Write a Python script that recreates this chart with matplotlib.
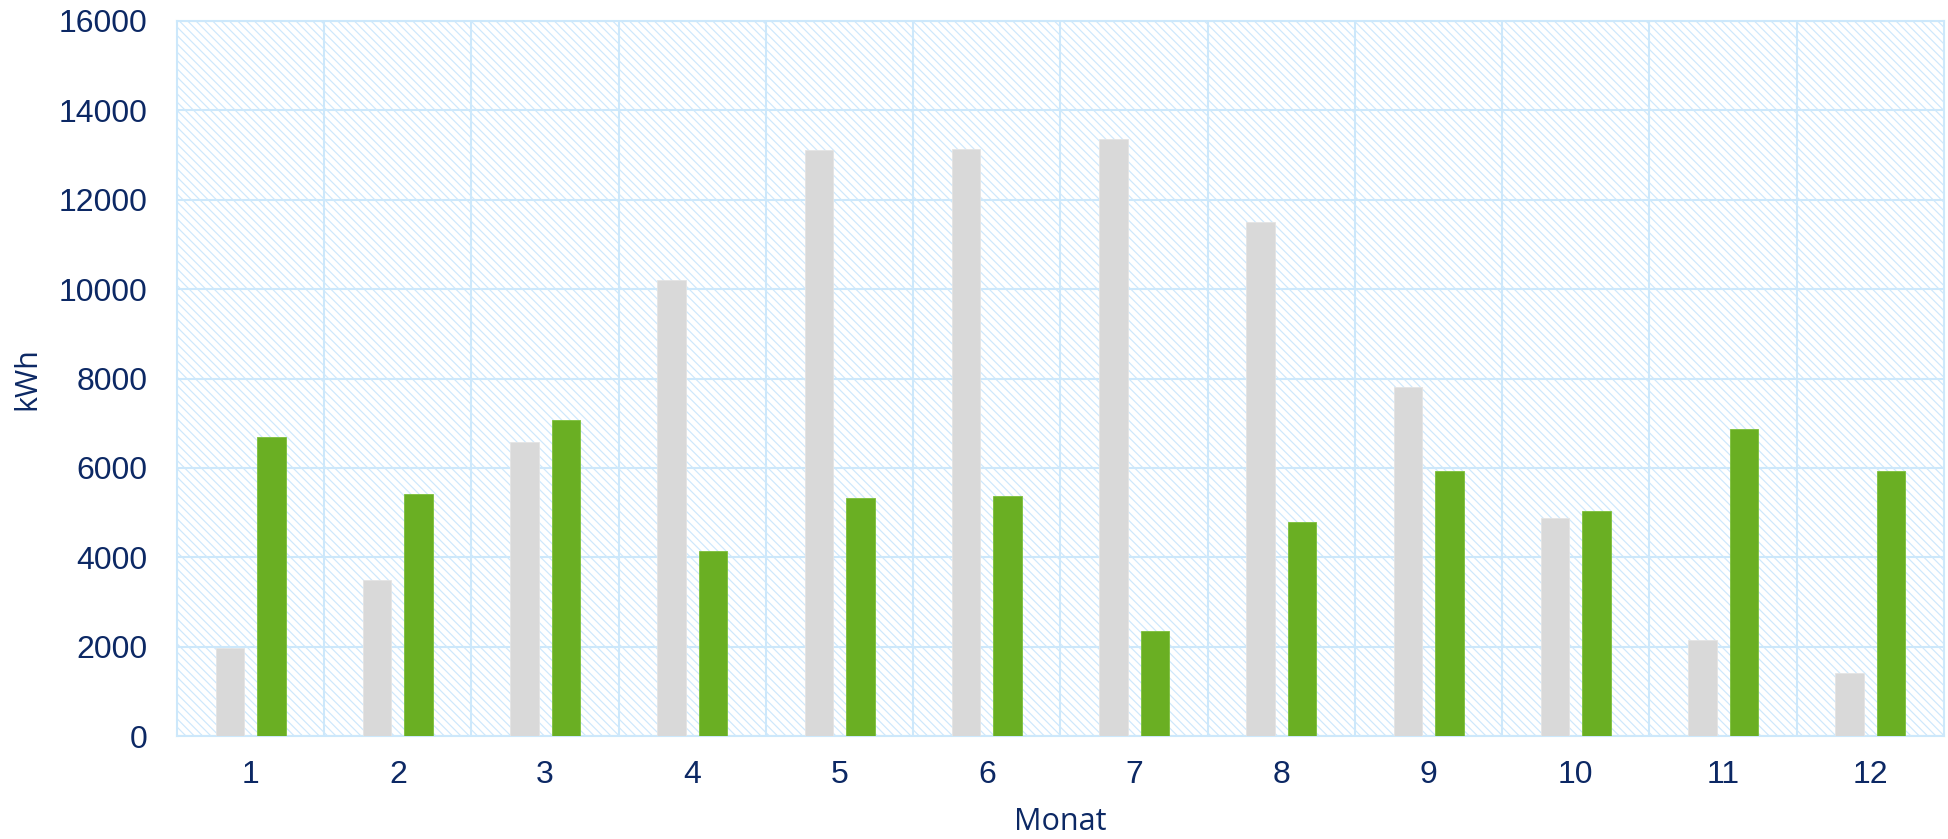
import matplotlib
matplotlib.use("Agg")
import matplotlib.pyplot as plt
import numpy as np

# Monthly energy values (kWh)
months = [1, 2, 3, 4, 5, 6, 7, 8, 9, 10, 11, 12]
series_gray = [1960, 3490, 6570, 10200, 13120, 13140, 13350, 11500, 7800, 4870, 2150, 1400]
series_green = [6700, 5410, 7070, 4150, 5330, 5370, 2340, 4800, 5920, 5030, 6870, 5920]
y_ticks = [0, 2000, 4000, 6000, 8000, 10000, 12000, 14000, 16000]

TEXT = "#0c2864"
GRID = "#cde8fb"
HATCH = "#cde8fc"
GRAY = "#d9d9d9"
GREEN = "#6aaf23"

plt.rcParams["font.family"] = ["Liberation Sans", "DejaVu Sans"]
plt.rcParams["hatch.color"] = HATCH
plt.rcParams["hatch.linewidth"] = 0.85

W, H = 1949, 839
fig = plt.figure(figsize=(W / 100, H / 100), dpi=100)
ax = fig.add_axes([177 / W, (H - 736) / H, (1944 - 177) / W, (736 - 21) / H])

# hatched background of the plotting area
ax.add_patch(plt.Rectangle((0, 0), 1, 1, transform=ax.transAxes,
                           facecolor="white", edgecolor=HATCH, linewidth=0,
                           hatch="\\\\\\\\", zorder=0))

x = np.arange(len(months))
bw = 0.194
off = 0.141
ax.bar(x - off, series_gray, width=bw, color=GRAY, edgecolor="#e4e4e4",
       linewidth=0.6, zorder=3)
ax.bar(x + off, series_green, width=bw, color=GREEN, edgecolor="#7cc03a",
       linewidth=0.6, zorder=3)

ax.set_xlim(-0.5, len(months) - 0.5)
ax.set_ylim(0, 16000)
ax.set_yticks(y_ticks)
ax.set_yticklabels([str(v) for v in y_ticks])
ax.set_xticks(x)
ax.set_xticklabels([str(m) for m in months])

# grid: horizontal at y ticks, vertical between month groups
for v in y_ticks:
    ax.axhline(v, color=GRID, linewidth=1.5, zorder=1)
for b in np.arange(0.5, len(months) - 0.5, 1.0):
    ax.axvline(b, color=GRID, linewidth=1.5, zorder=1)

for s in ax.spines.values():
    s.set_color(GRID)
    s.set_linewidth(1.5)

ax.tick_params(axis="both", length=0, labelsize=23, labelcolor=TEXT)
ax.tick_params(axis="y", pad=21)
ax.tick_params(axis="x", pad=17)

title_font = ["Open Sans", "DejaVu Sans"]
fig.text(27 / W, 1 - 379 / H, "kWh", rotation=90, ha="center", va="center",
         fontsize=22, color=TEXT, family=title_font)
fig.text(1060 / W, 1 - 822 / H, "Monat", ha="center", va="center",
         fontsize=22, color=TEXT, family=title_font)

fig.savefig("out.png", dpi=100, facecolor="white")
